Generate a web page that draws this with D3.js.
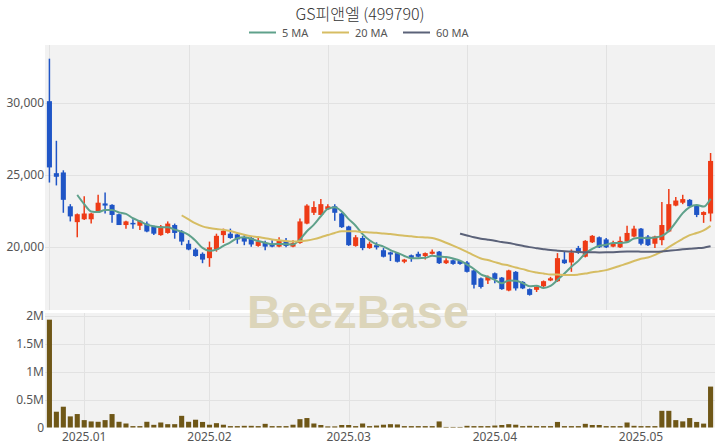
<!DOCTYPE html>
<html><head><meta charset="utf-8">
<script src="https://cdn.jsdelivr.net/npm/d3@7/dist/d3.min.js"></script>
<style>body{margin:0;background:#fff}svg{display:block}</style>
</head><body>
<svg id="c" width="720" height="448"></svg>
<script>
const title = "GS피앤엘 (499790)";
const opens  = [30100,25100,25150,22800,21700,21900,21900,22450,23000,22900,22250,21500,21650,21450,21600,21400,20800,20950,21500,21050,
                20200,19800,19500,19200,19800,20800,20900,20850,20650,20600,20050,20250,20200,20000,20400,20000,20250,21600,22350,22200,
                22600,22800,22300,21400,20050,20600,19900,20100,19750,19600,19550,18950,19400,19500,19350,19500,19650,18850,19050,19000,
                18900,18350,17800,17650,18150,17850,16950,18250,17550,17050,17000,17250,17650,17600,19100,18900,19900,19300,20300,20650,
                20500,20000,19950,20350,20700,21250,20700,20200,20450,21050,22850,23050,23250,22850,22200,22300];
const highs  = [33050,27350,25300,22950,22300,23500,22350,23600,23750,22950,22300,21800,21900,21850,21750,21450,21500,21750,21600,21150,
                20450,19900,19600,20350,20900,21250,21250,21000,20800,20700,20700,20400,20450,20650,20600,20450,21950,22950,23150,23300,
                22950,22950,22350,21450,20800,20750,20350,20300,19900,19650,19600,19150,19450,19650,19600,19800,19700,19200,19100,19050,
                19000,18400,17850,18000,18200,17900,18400,18300,17600,17100,17250,17650,17900,19550,19650,19800,20050,20450,20800,20700,
                20600,20400,20700,21450,21450,21300,20800,20750,23100,24000,23450,23600,23300,22900,22450,26500];
const lows   = [24450,24250,22350,21750,20650,21850,21600,22350,22300,21650,21500,21250,21250,21150,21000,20800,20750,20900,20550,20100,
                19750,19300,18850,18600,19650,20250,20550,20200,20100,20000,20000,19750,19950,19950,19950,19950,20200,21550,22200,22200,
                22550,21800,21300,20050,20000,19750,19850,19800,19250,19000,18900,18850,18950,19250,19100,19450,18800,18800,18750,18750,
                18200,17100,17100,17400,17450,17000,16900,16950,17050,16600,16850,17200,17600,17550,18800,18250,19500,19250,20250,19900,
                19900,19950,19900,20300,20650,20100,20050,19900,20100,21000,22800,22950,22750,22050,21650,21750];
const closes = [25500,24850,23250,22100,22250,22300,22300,23050,22850,22200,21500,21750,21550,21800,21050,20900,21400,21600,20950,20350,
                19800,19350,19100,19950,20750,21100,20600,20500,20350,20150,20350,20000,20000,20450,20050,20250,21750,22850,22750,22950,
                22800,22350,21350,20100,20650,19900,20200,19950,19300,19450,18950,19100,19200,19300,19550,19650,18850,19050,18800,18800,
                18250,17350,17200,17900,17750,17050,18350,17100,17100,16650,17200,17600,17800,19200,18850,19600,19600,20400,20750,19950,
                19950,20250,20400,20950,21250,20200,20100,20700,21500,22950,23200,23300,22800,22200,22400,25950];
const volumes = [1940000,284000,374000,200000,242000,133000,109000,103000,133000,242000,103000,72000,25000,25000,103000,48000,90000,60000,60000,210000,
                 103000,140000,100000,50000,78000,50000,25000,25000,30000,30000,25000,66000,25000,25000,25000,50000,150000,170000,72000,45000,
                 20000,20000,45000,45000,25000,72000,25000,35000,50000,60000,55000,25000,25000,25000,25000,25000,109000,10000,10000,10000,
                 30000,25000,25000,25000,35000,45000,60000,50000,25000,30000,25000,25000,25000,100000,25000,25000,25000,66000,45000,45000,
                 25000,25000,25000,90000,30000,25000,25000,25000,300000,300000,133000,110000,170000,100000,70000,736000];
const monthTickIdx = [5,23,43,64,85];
const monthTickLabels = ["2025.01","2025.02","2025.03","2025.04","2025.05"];
const priceGridIdx = [0,20,40,60,80];
const priceTicks = [20000,25000,30000];
const priceTickLabels = ["20,000","25,000","30,000"];
const volTicks = [0,500000,1000000,1500000,2000000];
const volTickLabels = ["0","0.5M","1M","1.5M","2M"];
const maPeriods = [5,20,60];
const maLabels = ["5 MA","20 MA","60 MA"];
const maColors = ["#5fa18b","#d6bd63","#5b6279"];

const svg = d3.select("#c");
const L = 45, R = 715, PT = 45, PB = 310, VT = 313, VB = 427.5;
const idx = d3.range(closes.length);
const x = d3.scaleBand().domain(idx).range([L, R]).padding(0.27);
const xc = i => x(i) + x.bandwidth()/2;
const y = d3.scaleLinear().domain([15600, 34000]).range([PB, PT]);
const yv = d3.scaleLinear().domain([0, 2060000]).range([VB, VT]);
const up = "#ee3b16", down = "#1f55c6";
const font = "'Noto Sans', 'Noto Sans CJK KR', sans-serif";

// backgrounds
svg.append("rect").attr("x",L).attr("y",PT).attr("width",R-L).attr("height",PB-PT).attr("fill","#f2f2f2");
svg.append("rect").attr("x",L).attr("y",VT).attr("width",R-L).attr("height",VB-VT).attr("fill","#f2f2f2");

const grid = svg.append("g").attr("stroke","#e2e2e2").attr("stroke-width",1);
priceTicks.forEach(t => grid.append("line").attr("x1",L).attr("x2",R).attr("y1",Math.round(y(t))+0.5).attr("y2",Math.round(y(t))+0.5));
priceGridIdx.forEach(i => grid.append("line").attr("x1",Math.round(xc(i))+0.5).attr("x2",Math.round(xc(i))+0.5).attr("y1",PT).attr("y2",PB));
volTicks.slice(1).forEach(t => grid.append("line").attr("x1",L).attr("x2",R).attr("y1",Math.round(yv(t))+0.5).attr("y2",Math.round(yv(t))+0.5));
monthTickIdx.forEach(i => grid.append("line").attr("x1",Math.round(xc(i))+0.5).attr("x2",Math.round(xc(i))+0.5).attr("y1",VT).attr("y2",VB));

// watermark
svg.append("text").attr("x",358).attr("y",328).attr("text-anchor","middle")
  .attr("font-family","'Liberation Sans', Arial, sans-serif").attr("font-weight","bold").attr("font-size",47)
  .attr("fill","#dcd5ba").text("BeezBase");

// candles
const cg = svg.append("g");
idx.forEach(i => {
  const col = closes[i] >= opens[i] ? up : down;
  cg.append("line").attr("x1",xc(i)).attr("x2",xc(i)).attr("y1",y(highs[i])).attr("y2",y(lows[i]))
    .attr("stroke",col).attr("stroke-width",1.5);
  const top = y(Math.max(opens[i],closes[i])), bot = y(Math.min(opens[i],closes[i]));
  cg.append("rect").attr("x",x(i)).attr("width",x.bandwidth()).attr("y",top).attr("height",Math.max(1.5,bot-top)).attr("fill",col);
});

// moving averages
maPeriods.forEach((n,k) => {
  const pts = [];
  for (let i = n-1; i < closes.length; i++) pts.push([i, d3.mean(closes.slice(i-n+1, i+1))]);
  svg.append("path").datum(pts)
    .attr("d", d3.line().x(d => xc(d[0])).y(d => y(d[1])).curve(d3.curveMonotoneX))
    .attr("fill","none").attr("stroke",maColors[k]).attr("stroke-width",2);
});

// volume
svg.append("g").selectAll("rect").data(idx).join("rect")
  .attr("x", i => x(i)).attr("width", x.bandwidth())
  .attr("y", i => yv(volumes[i])).attr("height", i => VB - yv(volumes[i]))
  .attr("fill","#6f5717");

// axes labels
const lab = svg.append("g").attr("font-family",font).attr("font-size",12).attr("fill","#555");
priceTicks.forEach((t,k) => lab.append("text").attr("x",L-1).attr("y",y(t)+4).attr("text-anchor","end").text(priceTickLabels[k]));
volTicks.forEach((t,k) => lab.append("text").attr("x",L-1).attr("y",yv(t)+4).attr("text-anchor","end").text(volTickLabels[k]));
monthTickIdx.forEach((i,k) => lab.append("text").attr("x",xc(i)).attr("y",441).attr("text-anchor","middle").text(monthTickLabels[k]));

// title
svg.append("text").attr("x",360).attr("y",20).attr("text-anchor","middle")
  .attr("font-family","'Noto Sans CJK KR', 'Noto Sans', sans-serif").attr("font-weight",300).attr("font-size",16)
  .attr("fill","#333").text(title);

// legend
const legX = [249, 322, 403];
maLabels.forEach((t,k) => {
  svg.append("line").attr("x1",legX[k]).attr("x2",legX[k]+27).attr("y1",32.5).attr("y2",32.5)
    .attr("stroke",maColors[k]).attr("stroke-width",2);
  svg.append("text").attr("x",legX[k]+33).attr("y",36.5).attr("font-family",font).attr("font-size",11)
    .attr("fill","#555").text(t);
});
</script>
</body></html>
